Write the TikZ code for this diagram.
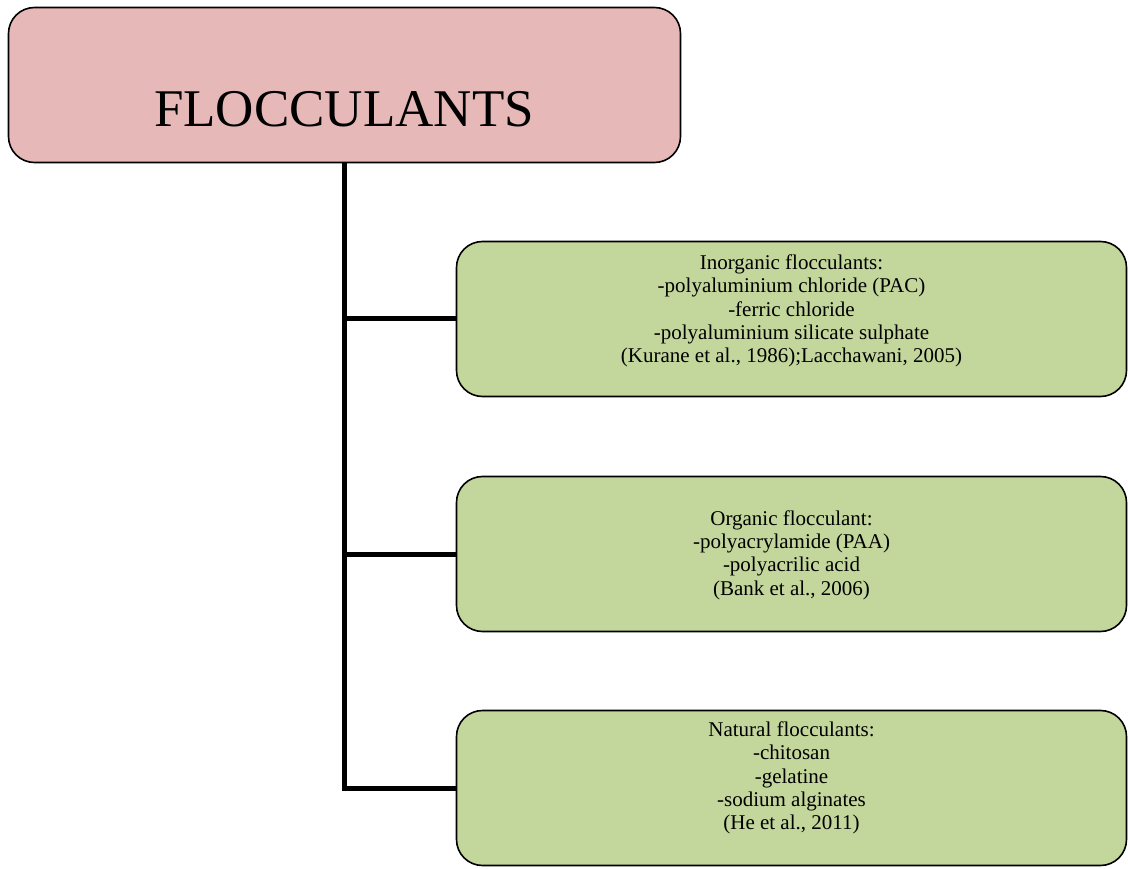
\documentclass[tikz,border=0pt]{standalone}
\usepackage{fontspec}
\setmainfont{Liberation Serif}
\definecolor{pinkfill}{HTML}{E6B8B7}
\definecolor{greenfill}{HTML}{C3D69B}
\tikzset{
  topbox/.style={draw=black, line width=1.6pt, fill=pinkfill, rounded corners=26pt,
    minimum width=672pt, minimum height=155pt, inner sep=0pt},
  leafbox/.style={draw=black, line width=1.6pt, fill=greenfill, rounded corners=26pt,
    minimum width=670pt, minimum height=155pt, inner sep=0pt},
  leaftext/.style={align=center, font=\fontsize{21}{23.3}\selectfont, inner sep=0pt},
  conn/.style={line width=5pt, line join=miter, line cap=butt},
}
\begin{document}
\begin{tikzpicture}[x=1pt,y=-1pt]
\useasboundingbox (0,0) rectangle (1128,869);
\node[topbox] (top) at (344.5,85) {};
\node[inner sep=0pt, font=\fontsize{53}{56}\selectfont] (toptext) at (344,109) {FLOCCULANTS};
\node[leafbox] (g1) at (791.5,319) {};
\node[leafbox] (g2) at (791.5,554) {};
\node[leafbox] (g3) at (791.5,788) {};
\node[leaftext] (t1) at (791.5,311) {Inorganic flocculants:\\-polyaluminium chloride (PAC)\\-ferric chloride\\-polyaluminium silicate sulphate\\(Kurane et al., 1986);Lacchawani, 2005)};
\node[leaftext] (t2) at (791.5,555) {Organic flocculant:\\-polyacrylamide (PAA)\\-polyacrilic acid\\(Bank et al., 2006)};
\node[leaftext] (t3) at (791.5,778) {Natural flocculants:\\-chitosan\\-gelatine\\-sodium alginates\\(He et al., 2011)};
\draw[conn] (top.south) |- (g3.west);
\draw[conn] (top.south |- g1.west) -- (g1.west);
\draw[conn] (top.south |- g2.west) -- (g2.west);
\end{tikzpicture}
\end{document}
